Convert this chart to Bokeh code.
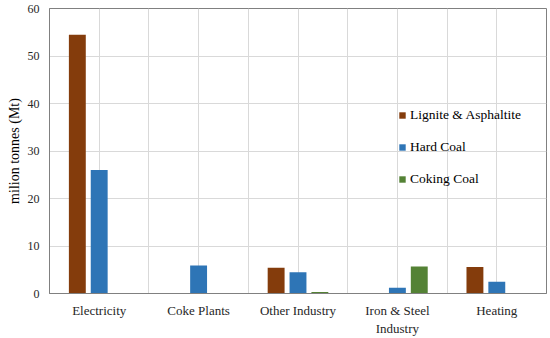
from bokeh.plotting import figure
from bokeh.models import Range1d, FixedTicker, Legend, LegendItem, Title
from bokeh.embed import file_html
from bokeh.resources import INLINE

categories = ["Electricity", "Coke Plants", "Other Industry", "Iron & Steel\nIndustry", "Heating"]
lignite = [54.5, 0.0, 5.4, 0.0, 5.6]
hard_coal = [26.0, 5.9, 4.5, 1.2, 2.45]
coking = [0.0, 0.0, 0.3, 5.7, 0.0]
series_names = ["Lignite & Asphaltite", "Hard Coal", "Coking Coal"]
colors = ["#843C0C", "#2E75B6", "#548235"]
y_ticks = [0, 10, 20, 30, 40, 50, 60]

FONT = "Liberation Serif"

p = figure(width=550, height=338, output_backend="svg", toolbar_location=None,
           x_range=Range1d(0, len(categories)), y_range=Range1d(0, 60),
           min_border_left=49, min_border_right=4, min_border_top=8, min_border_bottom=44)
p.background_fill_color = "white"
p.border_fill_color = "white"
p.outline_line_color = "#808080"
p.outline_line_width = 1

centers = [i + 0.5 for i in range(len(categories))]
offset = 0.22
bw = 0.17

series = [lignite, hard_coal, coking]
renderers = []
for k, (vals, col) in enumerate(zip(series, colors)):
    xs = [c + (k - 1) * offset for c in centers]
    r = p.vbar(x=xs, top=vals, width=bw, fill_color=col, line_color=None)
    renderers.append(r)

xt = [i * 0.5 for i in range(2 * len(categories) + 1)]
p.xaxis.ticker = FixedTicker(ticks=xt)
overrides = {}
for t in xt:
    overrides[t] = ""
for c, name in zip(centers, categories):
    overrides[c] = name
p.xaxis.major_label_overrides = overrides
p.yaxis.ticker = FixedTicker(ticks=y_ticks)

for ax in (p.xaxis, p.yaxis):
    ax.major_tick_line_color = None
    ax.minor_tick_line_color = None
    ax.major_tick_out = 0
    ax.major_tick_in = 0
    ax.minor_tick_out = 0
    ax.minor_tick_in = 0
    ax.axis_line_color = "#808080"
    ax.major_label_text_font = FONT
    ax.major_label_text_color = "#262626"

p.xaxis.major_label_text_font_size = "13px"
p.yaxis.major_label_text_font_size = "12px"
p.xaxis.major_label_standoff = 9
p.yaxis.major_label_standoff = 10

ylab = Title(text="milion tonnes (Mt)", align="center", text_font=FONT,
             text_font_size="14px", text_font_style="normal", text_color="#000000",
             text_line_height=0.9, standoff=6, offset=0)
p.add_layout(ylab, "left")

p.xgrid.grid_line_color = "#d9d9d9"
p.ygrid.grid_line_color = "#d9d9d9"

legend = Legend(items=[LegendItem(label=n, renderers=[r]) for n, r in zip(series_names, renderers)],
                location=(349, 104))
legend.background_fill_alpha = 0
legend.border_line_color = None
legend.padding = 0
legend.margin = 0
legend.glyph_width = 8
legend.glyph_height = 8
legend.label_height = 20
legend.spacing = 12
legend.label_standoff = 4
legend.label_text_font = FONT
legend.label_text_font_size = "13.5px"
legend.label_text_color = "#000000"
p.add_layout(legend, "center")

open("out.html", "w").write(file_html(p, INLINE))
